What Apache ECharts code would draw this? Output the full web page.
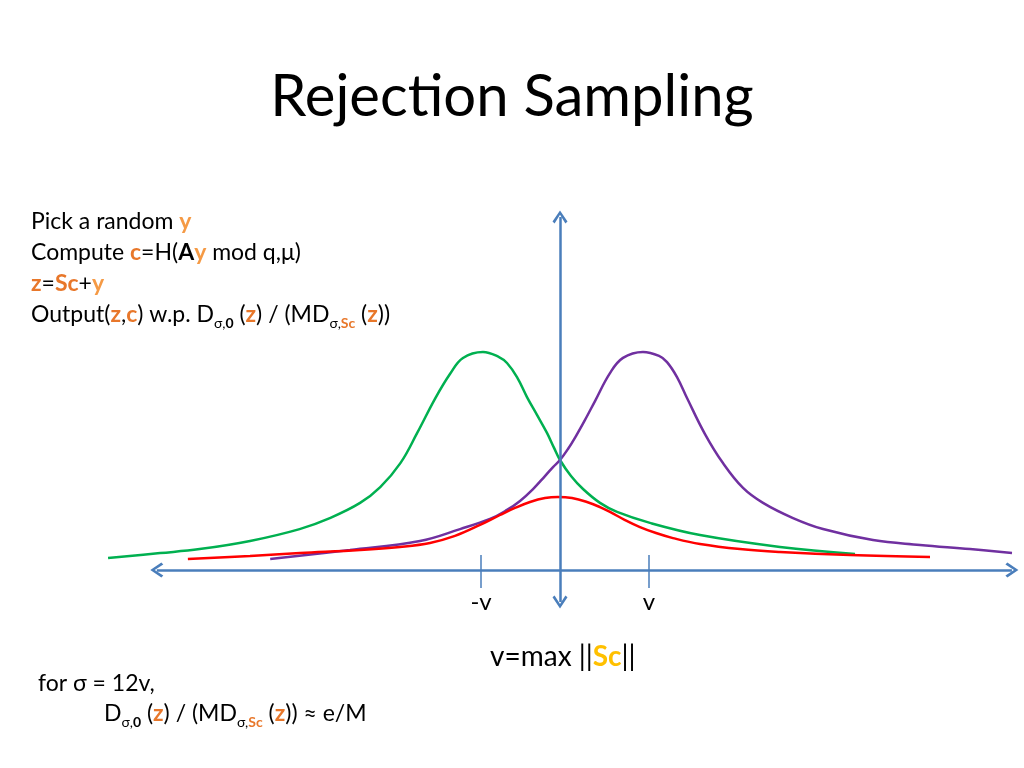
<!DOCTYPE html>
<html>
<head>
<meta charset="utf-8">
<title>Rejection Sampling</title>
<script src="https://cdn.jsdelivr.net/npm/echarts@6/dist/echarts.min.js"></script>
<style>
  html, body { margin: 0; padding: 0; background: #fff; }
  #main { width: 1024px; height: 768px; }
</style>
</head>
<body>
<div id="main"></div>
<script>
// curves, x in units of v (0 = vertical axis), y = density (peak ~ 1)
const greenCurve = [
  [-5.38, 0.055], [-4.76, 0.077], [-4.29, 0.095], [-3.69, 0.132], [-3.1, 0.186],
  [-2.74, 0.236], [-2.38, 0.305], [-2.14, 0.377], [-1.9, 0.486], [-1.7, 0.623],
  [-1.49, 0.777], [-1.31, 0.891], [-1.155, 0.964], [-0.917, 0.991], [-0.726, 0.968],
  [-0.631, 0.941], [-0.512, 0.877], [-0.393, 0.786], [-0.274, 0.705],
  [-0.155, 0.623], [-0.071, 0.555], [0, 0.5], [0.131, 0.427], [0.274, 0.368],
  [0.476, 0.305], [0.679, 0.264], [1.071, 0.214], [1.667, 0.159], [2.619, 0.105],
  [3.512, 0.073]
];
const purpleCurve = [
  [-3.45, 0.05], [-2.5, 0.091], [-1.667, 0.132], [-1.19, 0.186], [-0.833, 0.232],
  [-0.631, 0.273], [-0.476, 0.314], [-0.321, 0.368], [-0.179, 0.427], [-0.083, 0.468],
  [0, 0.5], [0.095, 0.55], [0.19, 0.609], [0.31, 0.691], [0.417, 0.768],
  [0.595, 0.895], [0.75, 0.964], [0.988, 0.991], [1.179, 0.973],
  [1.274, 0.945], [1.393, 0.877], [1.512, 0.782], [1.726, 0.618], [1.94, 0.486],
  [2.179, 0.373], [2.417, 0.305], [2.774, 0.236], [3.131, 0.186], [3.726, 0.136],
  [4.286, 0.114], [4.881, 0.095], [5.381, 0.077]
];
const redCurve = [
  [-4.43, 0.05], [-3.69, 0.064], [-3.095, 0.077], [-2.381, 0.091], [-1.905, 0.105],
  [-1.548, 0.123], [-1.25, 0.155], [-0.952, 0.205], [-0.714, 0.25], [-0.536, 0.282],
  [-0.357, 0.309], [-0.179, 0.327], [-0.024, 0.332], [0.143, 0.327], [0.321, 0.309],
  [0.476, 0.286], [0.595, 0.264], [0.774, 0.227], [0.952, 0.195], [1.143, 0.168],
  [1.345, 0.145], [1.667, 0.118], [2.143, 0.095], [2.619, 0.082], [3.452, 0.068],
  [4.405, 0.059]
];
// the drawn axes and the two ticks
const hAxis = [[-4.8, 0], [5.38, 0]];
const vAxis = [[0, -0.145], [0, 1.605]];
const tickX = [-0.94, 1.06];
const tickLabels = ['-v', 'v'];

const blue = '#4A7EBB';
const orangeY = '#F59A45';
const orange = '#E8772A';
const chevron = 'path://M5,0 L10,8 L8.6,9.4 L5,3.2 L1.4,9.4 L0,8 Z';
const font = 'Lato, "Open Sans", sans-serif';

let myChart = echarts.init(document.getElementById('main'));

function curve(name, data, color) {
  return {
    name: name,
    type: 'line',
    data: data,
    smooth: 0.4,
    symbol: 'none',
    lineStyle: { color: color, width: 2.5 },
    silent: true,
    z: 3
  };
}

// rich styles for the slide text (graphic text uses fill, not color)
const base = { fontSize: 23, fontFamily: font, fill: '#000', lineHeight: 31 };
const sub = { fontSize: 14, verticalAlign: 'bottom', lineHeight: 31 };
const rich = {
  t: base,
  y: Object.assign({}, base, { fill: orangeY, fontWeight: 'bold' }),
  c: Object.assign({}, base, { fill: orange, fontWeight: 'bold' }),
  b: Object.assign({}, base, { fontWeight: 'bold' }),
  sub: Object.assign({}, base, sub),
  subb: Object.assign({}, base, sub, { fontWeight: 'bold' }),
  subo: Object.assign({}, base, sub, { fontWeight: 'bold', fill: orange })
};

myChart.setOption({
  backgroundColor: '#fff',
  animation: false,
  title: {
    text: 'Rejection Sampling',
    left: 'center',
    top: 63,
    textStyle: { fontFamily: font, fontSize: 58, fontWeight: 'normal', color: '#000' }
  },
  grid: { left: 56, right: 2, top: 185, bottom: 88 },
  xAxis: { type: 'value', min: -6, max: 5.5, show: false },
  yAxis: { type: 'value', min: -0.5, max: 1.75, show: false },
  graphic: [
    {
      type: 'text', left: 31, top: 210,
      style: {
        text: [
          '{t|Pick a random }{y|y}',
          '{t|Compute }{c|c}{t|=H(}{b|A}{y|y}{t| mod q,μ)}',
          '{c|z}{t|=}{c|Sc}{t|+}{y|y}',
          '{t|Output(}{c|z}{t|,}{c|c}{t|) w.p. D}{sub|σ,}{subb|0}{t| (}{c|z}{t|) / (MD}{sub|σ,}{subo|Sc}{t| (}{c|z}{t|))}'
        ].join('\n'),
        rich: rich
      }
    },
    {
      type: 'text', left: 38, top: 672,
      style: { text: '{t|for σ = 12v,}', rich: rich }
    },
    {
      type: 'text', left: 104, top: 702,
      style: {
        text: '{t|D}{sub|σ,}{subb|0}{t| (}{c|z}{t|) / (MD}{sub|σ,}{subo|Sc}{t| (}{c|z}{t|)) ≈ e/M}',
        rich: rich
      }
    },
    {
      type: 'text', left: 490, top: 643,
      style: {
        text: '{t|v=max ||}{s|Sc}{t|||}',
        rich: {
          t: { fontSize: 28, fontFamily: font, fill: '#000' },
          s: { fontSize: 28, fontFamily: font, fill: '#FFC000', fontWeight: 'bold' }
        }
      }
    }
  ],
  series: [
    curve('green', greenCurve, '#00B050'),
    curve('purple', purpleCurve, '#7030A0'),
    curve('red', redCurve, '#FF0000'),
    {
      name: 'axes',
      type: 'line',
      data: [],
      silent: true,
      z: 2,
      markLine: {
        silent: true,
        animation: false,
        symbol: [chevron, chevron],
        symbolSize: [15, 13],
        label: { show: false },
        lineStyle: { color: blue, width: 2.5, type: 'solid' },
        data: [
          [{ coord: hAxis[0] }, { coord: hAxis[1] }],
          [{ coord: vAxis[0] }, { coord: vAxis[1] }]
        ]
      }
    },
    {
      name: 'ticks',
      type: 'line',
      data: [],
      silent: true,
      z: 2,
      markLine: {
        silent: true,
        animation: false,
        symbol: ['none', 'none'],
        lineStyle: { color: blue, width: 1.5, type: 'solid' },
        label: {
          show: true,
          position: 'start',
          distance: 2,
          fontFamily: font,
          fontSize: 24,
          color: '#000',
          formatter: p => p.name
        },
        data: tickX.map((x, i) => [
          { name: tickLabels[i], coord: [x, -0.082] },
          { coord: [x, 0.068] }
        ])
      }
    }
  ]
});
</script>
</body>
</html>
